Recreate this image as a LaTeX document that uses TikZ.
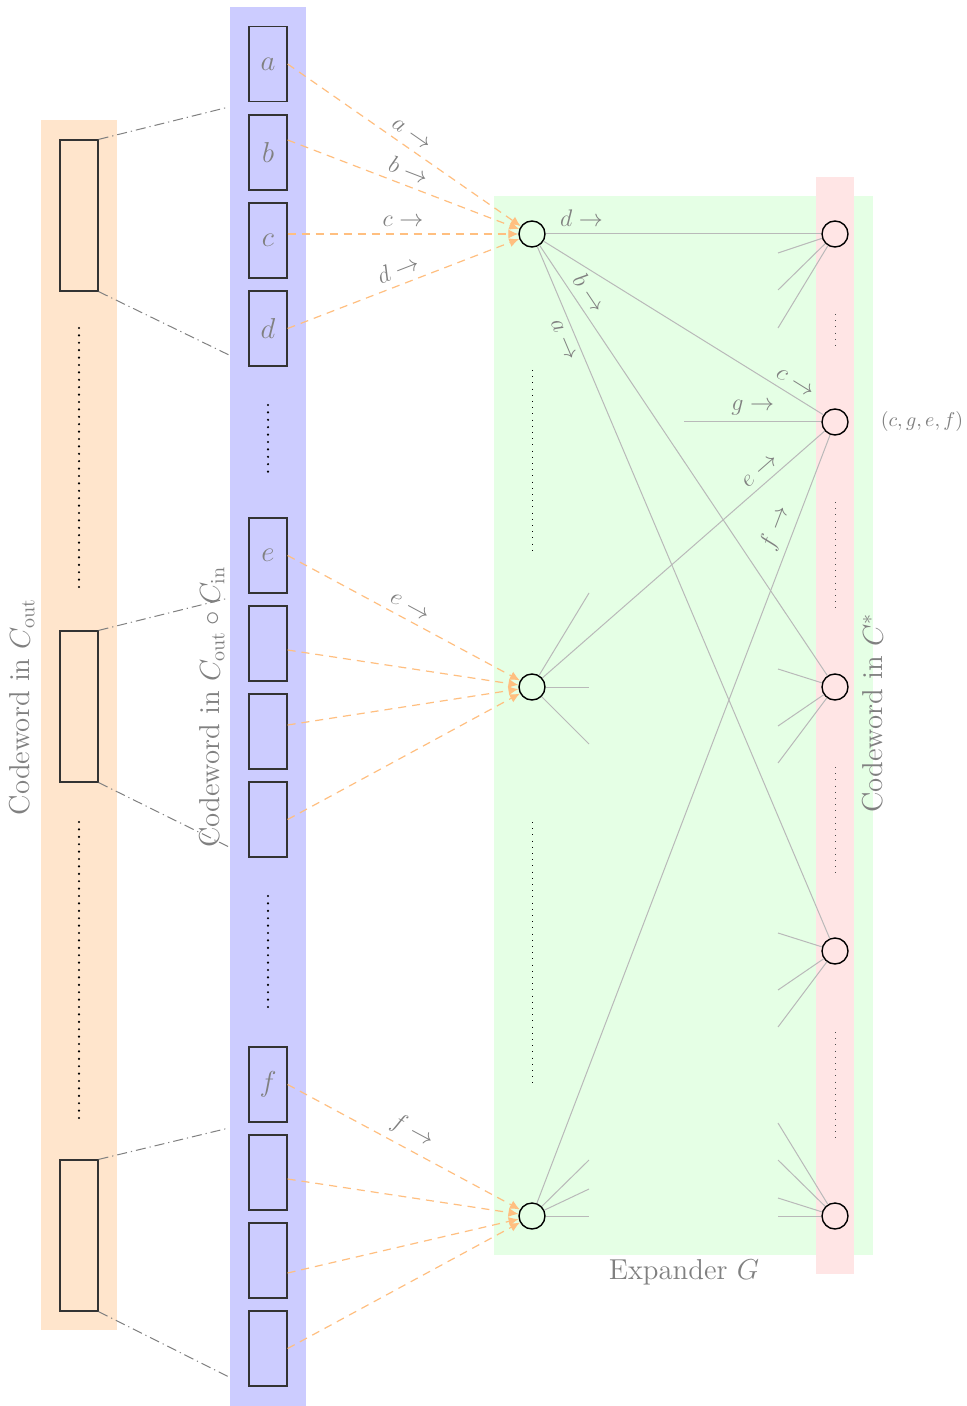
\documentclass[tikz,border=0pt]{standalone}
\usetikzlibrary{arrows.meta}
\begin{document}
\begin{tikzpicture}[x=0.5pt,y=-0.5pt,
  inbox/.style={draw=black!80, line width=0.6pt, minimum width=19pt, minimum height=37.5pt, inner sep=0pt, text=gray, font=\fontsize{13.5}{15}\selectfont},
  outbox/.style={draw=black!80, line width=0.6pt, minimum width=19pt, minimum height=75.5pt, inner sep=0pt},
  vx/.style={circle, draw=black, line width=0.7pt, minimum size=13pt, inner sep=0pt},
  feed/.style={draw=orange!50, line width=0.6pt, dash pattern=on 4pt off 3pt, -{Latex[length=5pt,width=4.5pt]}},
  edgeln/.style={draw=gray!55, line width=0.5pt},
  lab/.style={text=gray, font=\fontsize{11.5}{13}\selectfont},
  mapline/.style={draw=gray, line width=0.5pt, dash pattern=on 5pt off 2pt on 0.6pt off 2pt},
  bigdots/.style={line width=1.2pt, dash pattern=on 0pt off 3.7pt, line cap=round},
  smalldots/.style={line width=0.5pt, dash pattern=on 0.5pt off 2.6pt},
  biglab/.style={text=gray, font=\fontsize{14.4}{17}\selectfont}
]
% canvas and backgrounds
\fill[white] (0,0) rectangle (967,1406);
\useasboundingbox (0,0) rectangle (967,1406);
\fill[orange!20] (41,120) rectangle (117,1330);
\fill[blue!20] (230,7) rectangle (306,1406);
\fill[green!10] (494,196) rectangle (873,1255);
\fill[red!10] (816,177) rectangle (854,1274);

% outer code symbols
\node[outbox] (o1) at (79,215.5) {};
\node[outbox] (o2) at (79,706.5) {};
\node[outbox] (o3) at (79,1235.5) {};
\draw[bigdots] (79,328) -- (79,590);
\draw[bigdots] (79,822) -- (79,1122);

% inner code symbols
\node[inbox] (a) at (268,64) {$a$};
\node[inbox] (b) at (268,152.5) {$b$};
\node[inbox] (c) at (268,240.5) {$c$};
\node[inbox] (d) at (268,328.5) {$d$};
\node[inbox] (e) at (268,555.5) {$e$};
\node[inbox] (e2) at (268,643.5) {};
\node[inbox] (e3) at (268,731.5) {};
\node[inbox] (e4) at (268,819.5) {};
\node[inbox] (f) at (268,1084.5) {$f$};
\node[inbox] (f2) at (268,1172.5) {};
\node[inbox] (f3) at (268,1260.5) {};
\node[inbox] (f4) at (268,1348.5) {};
\draw[bigdots] (268,405) -- (268,478);
\draw[bigdots] (268,896) -- (268,1007);

% dash-dot maps
\coordinate (m1) at (229,107);
\coordinate (m2) at (229,355);
\coordinate (m3) at (229,598);
\coordinate (m4) at (229,847);
\coordinate (m5) at (229,1128);
\coordinate (m6) at (229,1377);
\draw[mapline] (o1.north east) -- (m1);
\draw[mapline] (o1.south east) -- (m2);
\draw[mapline] (o2.north east) -- (m3);
\draw[mapline] (o2.south east) -- (m4);
\draw[mapline] (o3.north east) -- (m5);
\draw[mapline] (o3.south east) -- (m6);

% expander vertices
\node[vx] (L1) at (532,234) {};
\node[vx] (L2) at (532,687) {};
\node[vx] (L3) at (532,1216) {};
\node[vx] (R1) at (835,234) {};
\node[vx] (R2) at (835,422) {};
\node[vx] (R3) at (835,687) {};
\node[vx] (R4) at (835,951) {};
\node[vx] (R5) at (835,1216) {};
\draw[smalldots] (532,370) -- (532,555);
\draw[smalldots] (532,822) -- (532,1085);
\draw[smalldots, black!70] (835,314) -- (835,348);
\draw[smalldots, black!70] (835,502) -- (835,612);
\draw[smalldots, black!70] (835,767) -- (835,877);
\draw[smalldots, black!70] (835,1032) -- (835,1142);

% feeding arrows
\draw[feed] (a.east) -- node[lab, sloped, above] {$a\rightarrow$} (L1);
\draw[feed] ([yshift=6.25pt]b.east) -- node[lab, sloped, above] {$b\rightarrow$} (L1);
\draw[feed] ([yshift=3.25pt]c.east) -- node[lab, sloped, above] {$c\rightarrow$} (L1);
\draw[feed] (d.east) -- node[lab, sloped, above] {$d\rightarrow$} (L1);
\draw[feed] (e.east) -- node[lab, sloped, above] {$e\rightarrow$} (L2);
\draw[feed] ([yshift=-3.25pt]e2.east) -- (L2);
\draw[feed] ([yshift=3.25pt]e3.east) -- (L2);
\draw[feed] (e4.east) -- (L2);
\draw[feed] (f.east) -- node[lab, sloped, above] {$f\rightarrow$} (L3);
\draw[feed] ([yshift=-3.25pt]f2.east) -- (L3);
\draw[feed] ([yshift=-6.25pt]f3.east) -- (L3);
\draw[feed] (f4.east) -- (L3);

% expander edges
\draw[edgeln] (L1) -- node[lab, pos=0.13, above] {$d\rightarrow$} (R1);
\draw[edgeln] (L1) -- node[lab, sloped, pos=0.875, above] {$c\rightarrow$} (R2);
\draw[edgeln] (L1) -- node[lab, sloped, pos=0.13, above] {$b\rightarrow$} (R3);
\draw[edgeln] (L1) -- node[lab, sloped, pos=0.128, below] {$a\rightarrow$} (R4);
\draw[edgeln] (L2) -- node[lab, sloped, pos=0.8, above] {$e\rightarrow$} (R2);
\draw[edgeln] (L3) -- node[lab, sloped, pos=0.87, above] {$f\rightarrow$} (R2);
\coordinate (g0) at (684,422);
\draw[edgeln] (g0) -- node[lab, above] {$g\rightarrow$} (R2);

% stubs
\coordinate (s11) at (778,253); \coordinate (s12) at (778,290); \coordinate (s13) at (778,328);
\draw[edgeln] (R1) -- (s11); \draw[edgeln] (R1) -- (s12); \draw[edgeln] (R1) -- (s13);
\coordinate (s31) at (778,669); \coordinate (s32) at (778,726); \coordinate (s33) at (778,763);
\draw[edgeln] (R3) -- (s31); \draw[edgeln] (R3) -- (s32); \draw[edgeln] (R3) -- (s33);
\coordinate (s41) at (778,933); \coordinate (s42) at (778,990); \coordinate (s43) at (778,1027);
\draw[edgeln] (R4) -- (s41); \draw[edgeln] (R4) -- (s42); \draw[edgeln] (R4) -- (s43);
\coordinate (s51) at (778,1123); \coordinate (s52) at (778,1160); \coordinate (s53) at (778,1198); \coordinate (s54) at (778,1216);
\draw[edgeln] (R5) -- (s51); \draw[edgeln] (R5) -- (s52); \draw[edgeln] (R5) -- (s53); \draw[edgeln] (R5) -- (s54);
\coordinate (t21) at (589,593); \coordinate (t22) at (589,687); \coordinate (t23) at (589,744);
\draw[edgeln] (L2) -- (t21); \draw[edgeln] (L2) -- (t22); \draw[edgeln] (L2) -- (t23);
\coordinate (t31) at (589,1160); \coordinate (t32) at (589,1189); \coordinate (t33) at (589,1216);
\draw[edgeln] (L3) -- (t31); \draw[edgeln] (L3) -- (t32); \draw[edgeln] (L3) -- (t33);

% texts
\node[biglab, rotate=90] (tout) at (22,707) {Codeword in $C_{\mathrm{out}}$};
\node[biglab, rotate=90] (tcat) at (212,707) {Codeword in $C_{\mathrm{out}}\circ C_{\mathrm{in}}$};
\node[biglab, rotate=90] (tstar) at (873,713) {Codeword in $C^*$};
\node[biglab] (texp) at (684,1272) {Expander $G$};
\node[text=gray, font=\fontsize{10}{12}\selectfont] (tword) at (922,422) {$(c,g,e,f)$};
\end{tikzpicture}
\end{document}
